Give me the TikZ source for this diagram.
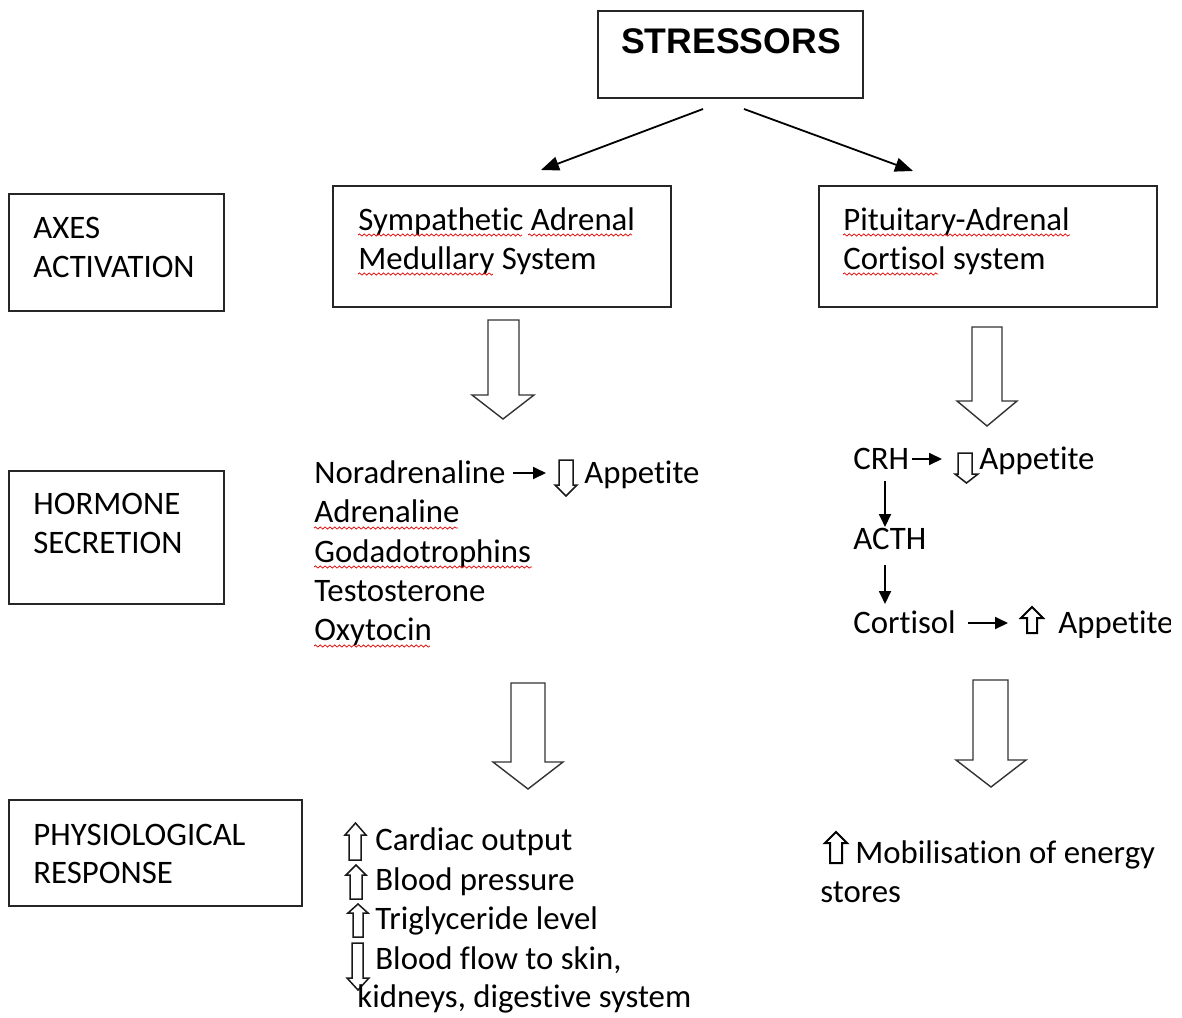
\documentclass[tikz,border=0pt]{standalone}
\usepackage{fontspec}
\setmainfont{Carlito}[RawFeature={-liga;-clig;-calt;-dlig;-rlig}]
\newfontfamily\arialbold{Liberation Sans}
\usetikzlibrary{arrows.meta,fit,decorations.pathmorphing,calc}
\newcommand{\nolig}{\kern0pt{}}
\newcommand{\hollowdown}[8][blk]{\draw[#1] (#2,#4) -- (#2,#5) -- (#6,#5) -- ({(#6+#7)/2},#8) -- (#7,#5) -- (#3,#5) -- (#3,#4) -- cycle;}
\newcommand{\hollowup}[8][sblk]{\draw[#1] (#2,#4) -- (#2,#5) -- (#6,#5) -- ({(#6+#7)/2},#8) -- (#7,#5) -- (#3,#5) -- (#3,#4) -- cycle;}
\begin{document}
\begin{tikzpicture}[x=0.5pt,y=-0.5pt,
  box/.style={draw=black!85, line width=0.8pt, inner sep=0pt, fill=none},
  txt/.style={inner sep=0pt, anchor=base west, font=\fontsize{16.4pt}{20pt}\selectfont},
  blk/.style={draw=black!80, line width=0.7pt, fill=white, line join=miter},
  sblk/.style={draw=black!90, line width=0.75pt, fill=white, line join=miter},
  conn/.style={draw=black, line width=0.9pt, -{Triangle[length=9pt,width=7pt]}},
  sconn/.style={draw=black, line width=0.9pt, -{Triangle[length=6.5pt,width=6pt]}},
  squig/.style={draw=red!90!black, line width=0.35pt, decorate, decoration={snake, segment length=2.4pt, amplitude=0.55pt}}]
\useasboundingbox[fill=white] (0,0) rectangle (1182,1017);

% left category boxes
\node[box, fit={(9,194) (224,311)}] (axesbox) {};
\node[txt] (axes1) at (33,238) {AXES};
\node[txt] (axes2) at (33,277) {ACTIVATION};
\node[box, fit={(9,471) (224,604)}] (hormbox) {};
\node[txt] (horm1) at (33,514) {HORMONE};
\node[txt] (horm2) at (33,553) {SECRETION};
\node[box, fit={(9,800) (302,906)}] (physbox) {};
\node[txt] (phys1) at (33,845) {PHYSIOLOGICAL};
\node[txt] (phys2) at (33,883) {RESPONSE};

% stressors
\node[box, fit={(598,11) (863,98)}] (stress) {};
\node[inner sep=0pt, anchor=base, font=\arialbold\bfseries\fontsize{17.8pt}{20pt}\selectfont] (stresstxt) at (731,54) {STRESSORS};
\coordinate (sl) at (703,109);
\coordinate (sle) at (541,170);
\coordinate (sr) at (744,109);
\coordinate (sre) at (913,171);
\draw[conn] (sl) -- (sle);
\draw[conn] (sr) -- (sre);

% axes boxes
\node[box, fit={(333,186) (671,307)}] (sympbox) {};
\node[txt] (symp1) at (358,230) {Sympathet\nolig ic Adrenal};
\node[txt] (symp2) at (358,269) {Medullary System};
\node[box, fit={(819,186) (1157,307)}] (pitbox) {};
\node[txt] (pit1) at (843,230) {Pituitary-Adrenal};
\node[txt] (pit2) at (843,269) {Cort\nolig isol system};

% big block arrows
\hollowdown{488}{519}{320}{395}{472}{534}{419}
\hollowdown{972}{1002}{327}{401}{957}{1017}{426}
\hollowdown{511}{545}{683}{762}{493}{563}{789}
\hollowdown{973}{1008}{680}{760}{956}{1026}{787}

% hormone list (left)
\node[txt] (nor) at (314,483) {Noradrenaline};
\node[txt] (adr) at (314,522) {Adrenaline};
\node[txt] (god) at (314,562) {Godadotrophins};
\node[txt] (tes) at (314,601) {Testosterone};
\node[txt] (oxy) at (314,640) {Oxytocin};
\coordinate (na1) at (513,473);
\coordinate (na2) at (546,473);
\draw[sconn] (na1) -- (na2);
\hollowdown[sblk]{559}{573}{460}{485}{555}{577}{496}
\node[txt] (app1) at (584,483) {Appet\nolig ite};

% hormone cascade (right)
\node[txt] (crh) at (853,469) {CRH};
\coordinate (ca1) at (912,459);
\coordinate (ca2) at (942,459);
\draw[sconn] (ca1) -- (ca2);
\hollowdown[sblk]{958}{972}{453}{474}{955}{978}{483}
\node[txt] (app2) at (979,469) {Appet\nolig ite};
\node[txt] (acth) at (853,549) {ACTH};
\node[txt] (cort) at (853,633) {Cort\nolig isol};
\coordinate (d1a) at (885,481);
\coordinate (d1b) at (885,527);
\coordinate (d2a) at (885,565);
\coordinate (d2b) at (885,604);
\draw[sconn] (d1a) -- (d1b);
\draw[sconn] (d2a) -- (d2b);
\coordinate (co1) at (968,623);
\coordinate (co2) at (1008,623);
\draw[sconn] (co1) -- (co2);
\hollowup[draw=black, line width=1pt, fill=white]{1027}{1037}{633}{618}{1021}{1043}{607}
\begin{scope}
\clip (1045,590) rectangle (1170,637);
\node[txt] (app3) at (1058,633) {Appet\nolig ite};
\end{scope}

% physiological response (left)
\hollowup{349}{361}{860}{835}{345}{366}{823}
\node[txt] (card) at (375,850) {Cardiac output};
\hollowup{350}{362}{899}{875}{346}{366}{865}
\node[txt] (bp) at (375,890) {Blood pressure};
\hollowup{353}{363}{937}{913}{348}{368}{904}
\node[txt] (tri) at (375,929) {Triglyceride level};
\hollowdown[sblk]{352}{363}{943}{978}{347}{369}{990}
\node[txt] (bf1) at (375,969) {Blood flow to skin,};
\node[txt] (bf2) at (357,1007) {kidneys, digestive system};

% physiological response (right)
\hollowup[draw=black, line width=1pt, fill=white]{830}{842}{863}{843}{825}{847}{832}
\node[txt] (mob1) at (855,863) {Mobilisat\nolig ion of energy};
\node[txt] (mob2) at (820,902) {stores};

% spell-check underlines
\draw[squig] (358,235) -- (522,235);
\draw[squig] (528,235) -- (632,235);
\draw[squig] (358,274) -- (493,274);
\draw[squig] (843,235) -- (1070,235);
\draw[squig] (843,274) -- (938,274);
\draw[squig] (314,528) -- (458,528);
\draw[squig] (314,567) -- (532,567);
\draw[squig] (314,646) -- (430,646);
\end{tikzpicture}
\end{document}
